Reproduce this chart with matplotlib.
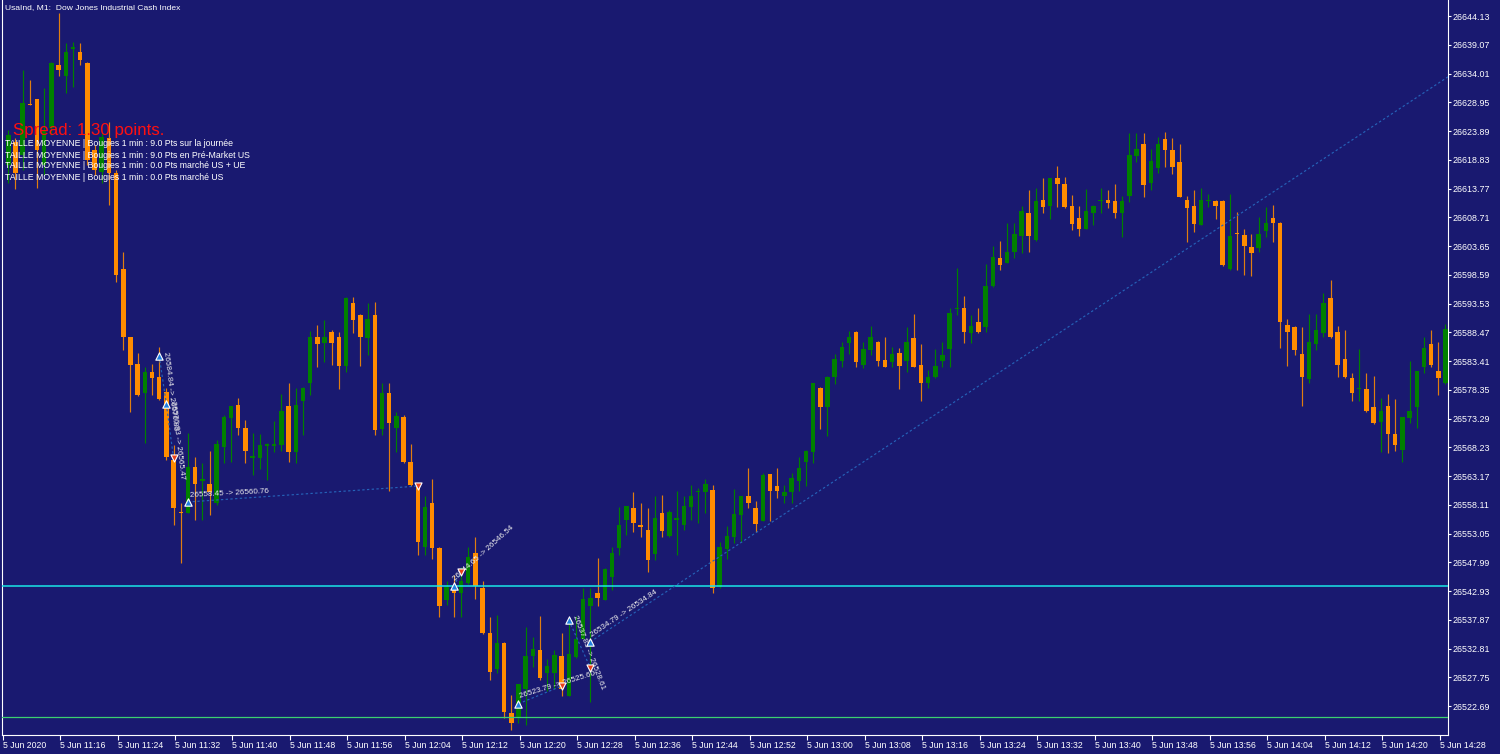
import numpy as np
import matplotlib
matplotlib.use("Agg")
import matplotlib.pyplot as plt

# --- DATA (1 min bars from 11:09) ---
opens = [26617.9, 26622.0, 26619.7, 26628.7, 26629.5, 26617.9, 26624.4, 26635.5, 26633.6, 26638.3,
         26637.8, 26635.9, 26620.6, 26616.7, 26622.7, 26616.5, 26599.6, 26587.6, 26582.9, 26577.8,
         26581.5, 26580.6, 26578.0, 26566.0, 26556.7, 26556.7, 26564.8, 26562.3, 26561.8, 26558.4,
         26568.3, 26573.4, 26575.7, 26571.6, 26566.3, 26566.3, 26568.5, 26568.5, 26568.6, 26575.5,
         26567.4, 26576.4, 26579.5, 26587.6, 26586.6, 26588.5, 26587.6, 26582.5, 26593.6, 26591.5,
         26587.5, 26591.5, 26571.5, 26577.8, 26571.6, 26573.6, 26565.6, 26561.4, 26550.7, 26558.4,
         26550.5, 26541.4, 26543.5, 26542.6, 26544.3, 26549.6, 26543.5, 26535.5, 26529.2, 26533.8,
         26521.5, 26520.6, 26525.7, 26531.5, 26532.6, 26528.5, 26528.5, 26531.5, 26524.5, 26531.3,
         26534.5, 26540.3, 26542.6, 26541.4, 26545.4, 26550.5, 26555.4, 26557.5, 26554.6, 26553.7,
         26549.5, 26556.7, 26552.6, 26555.5, 26554.6, 26557.7, 26560.3, 26560.4, 26560.7, 26543.6,
         26550.3, 26552.4, 26556.3, 26559.6, 26557.5, 26555.3, 26563.5, 26561.4, 26559.6, 26560.4,
         26562.3, 26565.6, 26567.4, 26578.7, 26575.3, 26580.6, 26583.4, 26586.6, 26588.5, 26582.7,
         26585.4, 26586.8, 26583.6, 26583.2, 26584.8, 26583.4, 26587.5, 26582.7, 26579.5, 26580.6,
         26583.4, 26585.5, 26592.5, 26592.7, 26588.3, 26590.3, 26589.4, 26596.6, 26601.5, 26600.7,
         26602.6, 26605.4, 26609.5, 26604.7, 26611.8, 26610.7, 26615.6, 26614.6, 26610.7, 26608.6,
         26606.7, 26609.5, 26611.5, 26611.8, 26611.6, 26609.5, 26612.4, 26619.5, 26621.6, 26614.7,
         26617.4, 26622.5, 26620.6, 26618.4, 26611.8, 26610.7, 26607.4, 26611.5, 26611.6, 26611.6,
         26599.6, 26605.8, 26605.6, 26603.5, 26603.3, 26606.3, 26608.6, 26607.7, 26589.8, 26589.4,
         26584.7, 26580.3, 26586.4, 26588.3, 26594.5, 26588.5, 26583.8, 26580.4, 26578.4, 26578.5,
         26575.3, 26572.7, 26575.5, 26570.6, 26567.8, 26573.4, 26575.3, 26582.4, 26586.4, 26581.7,
         26579.5]
highs = [26624.1, 26622.7, 26634.6, 26632.9, 26629.6, 26631.5, 26636.0, 26644.7, 26639.4, 26639.6,
         26639.4, 26636.0, 26621.4, 26623.5, 26625.5, 26617.0, 26602.6, 26587.7, 26584.8, 26582.4,
         26582.9, 26585.9, 26578.7, 26568.6, 26558.4, 26570.7, 26566.5, 26565.5, 26567.6, 26569.5,
         26573.9, 26575.5, 26576.9, 26573.0, 26570.7, 26570.6, 26568.9, 26572.9, 26577.6, 26579.5,
         26578.7, 26578.8, 26588.7, 26589.8, 26590.6, 26588.9, 26588.5, 26594.6, 26594.7, 26591.6,
         26593.6, 26593.8, 26579.5, 26579.5, 26574.4, 26573.9, 26568.8, 26561.9, 26559.7, 26562.7,
         26550.7, 26544.7, 26545.8, 26547.2, 26550.7, 26552.4, 26544.7, 26538.4, 26538.7, 26533.9,
         26524.6, 26526.6, 26536.6, 26534.8, 26538.5, 26531.0, 26532.6, 26535.5, 26537.8, 26538.5,
         26543.5, 26543.5, 26548.7, 26547.0, 26550.7, 26557.7, 26557.9, 26560.4, 26558.4, 26557.5,
         26559.7, 26559.8, 26557.2, 26560.5, 26559.7, 26561.6, 26561.1, 26562.7, 26561.6, 26551.6,
         26554.4, 26560.9, 26559.7, 26564.6, 26558.8, 26563.7, 26563.6, 26564.6, 26561.6, 26563.7,
         26566.5, 26567.8, 26579.6, 26578.9, 26580.7, 26584.7, 26586.8, 26588.7, 26588.7, 26586.8,
         26589.6, 26586.9, 26587.6, 26585.9, 26585.7, 26589.4, 26591.7, 26586.4, 26581.8, 26585.5,
         26586.8, 26592.7, 26599.8, 26594.9, 26591.5, 26592.7, 26600.5, 26603.7, 26604.5, 26607.7,
         26607.7, 26610.7, 26613.5, 26613.9, 26615.6, 26615.7, 26617.7, 26615.8, 26612.6, 26610.7,
         26613.7, 26610.8, 26613.9, 26613.5, 26614.6, 26612.5, 26623.5, 26623.5, 26623.5, 26620.7,
         26622.8, 26623.7, 26622.7, 26621.6, 26612.5, 26613.5, 26613.9, 26612.8, 26611.8, 26611.8,
         26612.8, 26609.6, 26606.7, 26605.8, 26608.8, 26610.5, 26610.9, 26607.8, 26590.8, 26589.6,
         26589.4, 26591.7, 26591.7, 26595.4, 26597.7, 26589.6, 26588.9, 26581.3, 26585.5, 26581.3,
         26580.8, 26576.9, 26577.6, 26576.7, 26573.6, 26583.4, 26581.7, 26587.6, 26588.9, 26586.8,
         26589.9]
lows = [26614.7, 26613.7, 26617.0, 26628.4, 26613.9, 26616.2, 26623.2, 26633.6, 26630.6, 26631.6,
        26635.5, 26617.9, 26616.2, 26614.7, 26610.9, 26597.3, 26585.4, 26574.4, 26577.3, 26569.0,
        26577.4, 26576.6, 26566.0, 26554.6, 26547.9, 26556.6, 26555.4, 26555.4, 26556.3, 26558.1,
        26565.5, 26565.6, 26570.4, 26565.5, 26563.4, 26564.4, 26562.5, 26567.4, 26567.6, 26565.6,
        26565.5, 26570.4, 26577.4, 26582.4, 26583.2, 26582.7, 26578.5, 26581.5, 26588.3, 26582.5,
        26584.5, 26570.4, 26570.4, 26560.5, 26567.4, 26565.5, 26561.5, 26549.3, 26549.3, 26548.6,
        26538.4, 26540.5, 26538.4, 26538.4, 26544.2, 26541.5, 26535.4, 26527.3, 26528.5, 26520.6,
        26518.5, 26519.7, 26519.4, 26529.6, 26527.3, 26525.3, 26525.7, 26524.5, 26524.4, 26531.2,
        26534.4, 26523.4, 26540.3, 26541.3, 26543.1, 26549.3, 26552.8, 26553.3, 26552.4, 26546.3,
        26548.4, 26552.4, 26552.5, 26549.3, 26553.7, 26555.4, 26554.9, 26556.7, 26542.6, 26543.5,
        26548.6, 26551.4, 26551.6, 26557.5, 26553.3, 26555.2, 26555.2, 26559.3, 26558.4, 26558.4,
        26560.5, 26561.4, 26565.5, 26571.5, 26570.2, 26579.4, 26582.4, 26584.7, 26582.4, 26582.2,
        26584.5, 26582.5, 26582.3, 26582.4, 26578.5, 26581.5, 26582.3, 26576.4, 26578.7, 26580.5,
        26582.4, 26582.4, 26591.5, 26586.6, 26586.6, 26588.4, 26588.5, 26596.5, 26599.4, 26600.6,
        26601.5, 26602.4, 26602.6, 26604.6, 26609.5, 26608.4, 26610.5, 26610.4, 26606.5, 26605.4,
        26606.6, 26607.4, 26609.5, 26610.3, 26608.6, 26605.2, 26611.4, 26618.4, 26612.3, 26613.5,
        26616.5, 26617.6, 26616.3, 26612.2, 26604.4, 26606.1, 26607.3, 26610.5, 26608.4, 26600.2,
        26599.4, 26599.4, 26598.6, 26598.4, 26602.6, 26605.2, 26604.4, 26585.7, 26582.5, 26584.5,
        26575.5, 26579.5, 26585.4, 26587.6, 26587.5, 26580.6, 26580.5, 26576.4, 26576.4, 26574.4,
        26572.4, 26567.4, 26567.2, 26567.6, 26565.6, 26572.5, 26571.6, 26581.3, 26582.4, 26577.4,
        26579.4]
closes = [26623.2, 26616.5, 26628.8, 26628.5, 26620.6, 26624.1, 26635.9, 26634.6, 26637.8, 26638.7,
          26636.4, 26618.8, 26617.0, 26622.8, 26616.5, 26598.6, 26587.6, 26582.7, 26577.4, 26581.5,
          26580.4, 26576.7, 26566.5, 26557.5, 26556.6, 26564.8, 26561.8, 26562.7, 26560.4, 26568.8,
          26573.6, 26575.5, 26571.6, 26567.6, 26566.7, 26568.6, 26568.8, 26568.8, 26574.6, 26567.4,
          26575.7, 26578.7, 26587.6, 26586.4, 26587.6, 26586.6, 26582.5, 26594.5, 26590.6, 26587.6,
          26590.8, 26571.3, 26577.8, 26572.5, 26573.7, 26565.6, 26561.6, 26551.6, 26557.7, 26550.5,
          26540.3, 26543.6, 26542.6, 26544.7, 26548.9, 26543.8, 26535.6, 26528.7, 26533.8, 26521.6,
          26519.7, 26526.5, 26531.5, 26532.7, 26527.6, 26529.7, 26531.7, 26525.7, 26531.9, 26534.5,
          26541.5, 26541.7, 26541.7, 26546.8, 26549.6, 26554.6, 26557.9, 26554.9, 26554.2, 26548.4,
          26555.8, 26553.5, 26556.8, 26555.7, 26557.9, 26559.7, 26560.5, 26561.8, 26543.5, 26550.7,
          26552.6, 26556.5, 26559.6, 26558.4, 26554.7, 26563.4, 26560.5, 26560.5, 26560.4, 26562.8,
          26564.6, 26567.6, 26579.5, 26575.3, 26580.6, 26583.8, 26585.9, 26587.6, 26583.2, 26585.5,
          26587.6, 26583.4, 26582.4, 26584.7, 26582.5, 26586.8, 26582.4, 26579.5, 26580.6, 26582.5,
          26584.5, 26591.9, 26592.6, 26588.5, 26589.6, 26588.5, 26596.6, 26601.7, 26600.3, 26602.6,
          26605.8, 26609.8, 26605.4, 26611.6, 26610.5, 26615.6, 26614.6, 26610.5, 26607.5, 26606.7,
          26609.8, 26610.7, 26611.7, 26611.2, 26609.5, 26611.6, 26619.7, 26620.7, 26614.4, 26618.6,
          26621.6, 26620.6, 26617.6, 26612.3, 26610.3, 26607.5, 26611.8, 26611.7, 26610.7, 26600.3,
          26605.4, 26605.7, 26603.7, 26602.4, 26605.8, 26607.7, 26607.7, 26590.3, 26588.5, 26585.4,
          26580.6, 26586.8, 26588.9, 26593.6, 26587.6, 26582.7, 26580.6, 26577.8, 26578.6, 26574.6,
          26572.5, 26574.6, 26570.6, 26568.6, 26573.6, 26574.6, 26581.6, 26585.7, 26582.7, 26580.4,
          26589.1]

price_ticks = [26644.13, 26639.07, 26634.01, 26628.95, 26623.89, 26618.83, 26613.77, 26608.71,
               26603.65, 26598.59, 26593.53, 26588.47, 26583.41, 26578.35, 26573.29, 26568.23,
               26563.17, 26558.11, 26553.05, 26547.99, 26542.93, 26537.87, 26532.81, 26527.75,
               26522.69]
time_labels = ["5 Jun 2020", "5 Jun 11:16", "5 Jun 11:24", "5 Jun 11:32", "5 Jun 11:40",
               "5 Jun 11:48", "5 Jun 11:56", "5 Jun 12:04", "5 Jun 12:12", "5 Jun 12:20",
               "5 Jun 12:28", "5 Jun 12:36", "5 Jun 12:44", "5 Jun 12:52", "5 Jun 13:00",
               "5 Jun 13:08", "5 Jun 13:16", "5 Jun 13:24", "5 Jun 13:32", "5 Jun 13:40",
               "5 Jun 13:48", "5 Jun 13:56", "5 Jun 14:04", "5 Jun 14:12", "5 Jun 14:20",
               "5 Jun 14:28"]

level_cyan = 26543.8
level_green = 26520.8

# trade history: (open bar, open price, close bar, close price, label, label angle)
trades = [(21, 26584.3, 22, 26575.8, "26584.84 -> 26576.83", -83),
          (22, 26575.8, 23, 26566.3, "26576.83 -> 26565.47", -83),
          (25, 26558.6, 57, 26561.4, "26558.45 -> 26560.76", 3),
          (62, 26543.8, 63, 26546.3, "26544.65 -> 26546.54", 42),
          (71, 26523.1, 77, 26526.2, "26523.79 -> 26525.60", 17),
          (78, 26537.8, 81, 26529.4, "26537.83 -> 26528.61", -69),
          (81, 26534.0, 88, 26544.9, "26534.79 -> 26534.84", 34)]
trend_start = (81, 26534.0)
trend_end = (199, 26632.3)

info_lines = ["TAILLE MOYENNE | Bougies 1 min : 9.0 Pts sur la journée",
              "TAILLE MOYENNE | Bougies 1 min : 9.0 Pts en Pré-Market US",
              "TAILLE MOYENNE | Bougies 1 min : 0.0 Pts marché US + UE",
              "TAILLE MOYENNE | Bougies 1 min : 0.0 Pts marché US"]

# --- STYLE ---
BG = '#191970'
BULL = '#008000'
BEAR = '#ff8c00'
BEAR_WICK = '#e07d10'
FONT = 'Liberation Sans'
W, H = 1500, 754

plt.rcParams['font.family'] = [FONT, 'DejaVu Sans']

fig = plt.figure(figsize=(W / 100, H / 100), dpi=100, facecolor=BG)
# plot area in pixels: x 1.5..1448, y 0..735
ax = fig.add_axes([1.5 / W, (H - 735) / H, (1448 - 1.5) / W, 735 / H])
ax.set_facecolor(BG)

o = np.array(opens)
h = np.array(highs)
l = np.array(lows)
c = np.array(closes)
x = np.arange(len(o))
up = c >= o

wick_cols = np.where(up, BULL, BEAR_WICK)
body_cols = np.where(up, BULL, BEAR)
ax.vlines(x, l, h, colors=wick_cols, linewidth=0.85, zorder=2)
body_low = np.minimum(o, c)
body_h = np.maximum(np.abs(c - o), 0.2)
ax.bar(x, body_h, 0.62, bottom=body_low, color=body_cols, linewidth=0, zorder=3)

# horizontal levels
ax.axhline(level_cyan, color='#19e6e6', linewidth=1.1, zorder=4)
ax.axhline(level_green, color='#3cd070', linewidth=0.9, zorder=4)

# trade lines + markers
dot = (0, (2, 2))
line_col = '#2562b8'
for ob, op, cb, cp, lab, ang in trades[:-1]:
    ax.plot([ob, cb], [op, cp], color=line_col, linewidth=0.85, linestyle=dot, zorder=5)
slope = (trend_end[1] - trend_start[1]) / (trend_end[0] - trend_start[0])
ax.plot([trend_start[0], trend_end[0] + 5], [trend_start[1], trend_end[1] + 5 * slope],
        color=line_col, linewidth=0.85, linestyle=dot, zorder=5)

for ob, op, cb, cp, lab, ang in trades:
    ax.text(ob + 0.35, op + 0.6, lab, rotation=ang, rotation_mode='anchor', ha='left', va='bottom',
            fontsize=5.8, color='#eeeeee', zorder=7)

opens_mk = [(t[0], t[1]) for t in trades]
closes_mk = [(t[2], t[3]) for t in trades[:-1] if t[2] not in (22,)]
ax.scatter([p[0] for p in opens_mk], [p[1] for p in opens_mk], marker='^', s=28,
           color='#1f7fe0', edgecolors='white', linewidths=0.8, zorder=8)
ax.scatter([p[0] for p in closes_mk], [p[1] for p in closes_mk], marker='v', s=26,
           color='#e8401c', edgecolors='white', linewidths=0.8, zorder=8)

# axes
ax.set_xlim(-0.946, 200.35)
ax.set_ylim(26517.59, 26646.95)
for side in ['left', 'bottom', 'right']:
    ax.spines[side].set_color('white')
    ax.spines[side].set_linewidth(0.8)
ax.spines['top'].set_visible(False)

ax.yaxis.tick_right()
ax.set_yticks(price_ticks, [f"{v:.2f}" for v in price_ticks])
ax.tick_params(axis='y', colors='white', labelcolor='white', direction='out', length=2.5,
               width=0.8, pad=1.0, labelsize=6.4)
xt = [-1 + 8 * k + 0.2 for k in range(len(time_labels))]
ax.set_xticks(xt, time_labels, ha='left')
ax.tick_params(axis='x', colors='white', labelcolor='white', direction='out', length=3.5,
               width=0.8, pad=0.5, labelsize=6.3)

# overlay texts
def fx(px):
    return px / W

def fy(py):
    return 1 - py / H

fig.text(fx(5), fy(8), "UsaInd, M1:  Dow Jones Industrial Cash Index", color='white',
         fontsize=6.1, va='center', ha='left')
fig.text(fx(13), fy(130), "Spread: 1.30 points.", color='#ff1010', fontsize=12.2,
         va='center', ha='left', zorder=10)
for k, line in enumerate(info_lines):
    fig.text(fx(5), fy(144 + 11 * k), line, color='white', fontsize=6.3,
             va='center', ha='left', zorder=10)

fig.savefig('out.png', dpi=100, facecolor=BG)
